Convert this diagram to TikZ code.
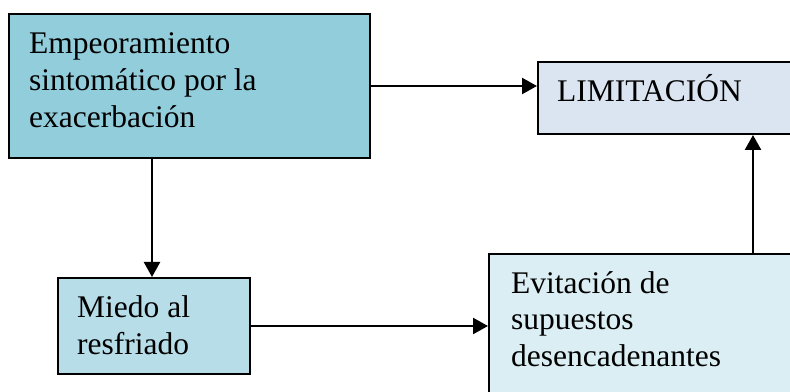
\documentclass[tikz,border=0pt]{standalone}
\usepackage{fontspec}
\setmainfont{Liberation Serif}
\usetikzlibrary{arrows.meta}

\definecolor{aquaMid}{HTML}{92CDDC}
\definecolor{aquaLight}{HTML}{B6DDE8}
\definecolor{aquaPale}{HTML}{DAEEF3}
\definecolor{slatePale}{HTML}{DBE5F1}

\tikzset{
  box/.style={draw=black, line width=2pt, rectangle, inner sep=0pt, anchor=north west},
  label/.style={align=left, anchor=base west, inner sep=0pt,
    font=\fontsize{31.5}{37}\selectfont},
  arr/.style={line width=2.4pt, -{Triangle[length=15pt, width=16pt]}},
}

\begin{document}
\begin{tikzpicture}[x=1pt, y=1pt]
  \useasboundingbox (0,0) rectangle (790,391);
  \clip (0,0) rectangle (790,391);

  % boxes
  \node[box, fill=aquaMid,   minimum width=361pt, minimum height=144pt] (sympt) at (8,378) {};
  \node[box, fill=slatePale, minimum width=270pt, minimum height=72pt]  (limit) at (537,330) {};
  \node[box, fill=aquaLight, minimum width=192pt, minimum height=96pt]  (fear)  at (57,114) {};
  \node[box, fill=aquaPale,  minimum width=320pt, minimum height=150pt] (avoid) at (488,138) {};

  % texts (anchored on the baseline of their last line)
  \node[label] (tsympt) at (29,263) {Empeoramiento\\sintomático por la\\exacerbación};
  \node[label] (tlimit) at (557,289) {LIMITACIÓN};
  \node[label] (tfear)  at (77,36)   {Miedo al\\resfriado};
  \node[label] (tavoid) at (511,24)  {Evitación de\\supuestos\\desencadenantes};

  % connectors
  \coordinate (downx) at (152,0);
  \coordinate (upx)   at (753,0);
  \draw[arr] (sympt.east) -- (sympt.east -| limit.west);
  \draw[arr] (sympt.south -| downx) -- (fear.north -| downx);
  \draw[arr] (fear.east) -- (fear.east -| avoid.west);
  \draw[arr] (avoid.north -| upx) -- (limit.south -| upx);
\end{tikzpicture}
\end{document}
